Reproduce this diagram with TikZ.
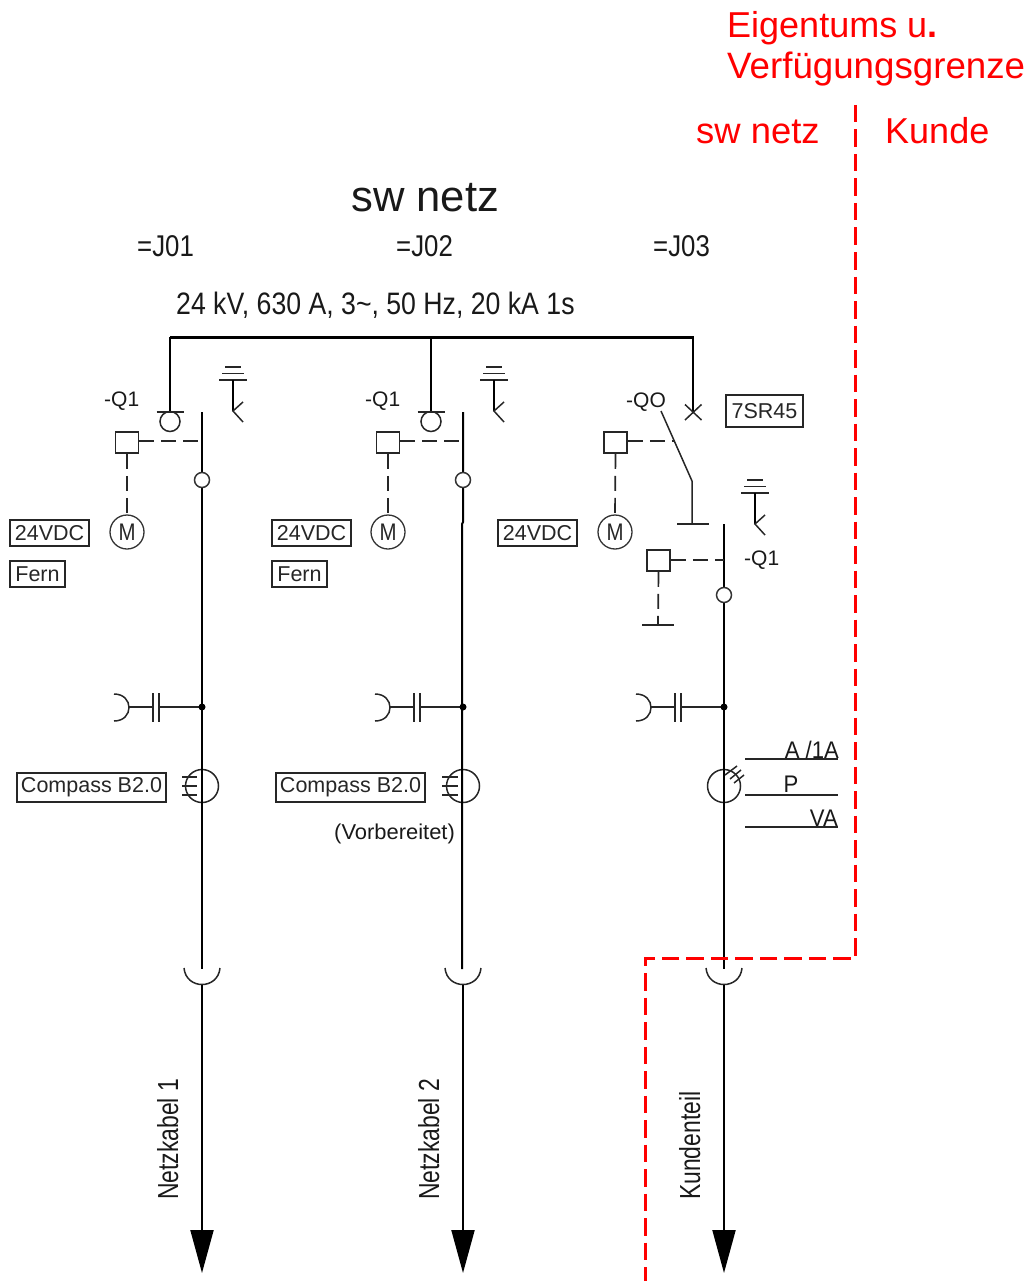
\documentclass[tikz,border=0pt]{standalone}
\usepackage{fontspec}
\usepackage{graphicx}
\setmainfont{Liberation Sans}
\usetikzlibrary{arrows.meta}
\definecolor{grenzrot}{RGB}{255,0,0}
\newcommand{\fsz}[1]{\fontsize{#1pt}{#1pt}\selectfont}
\tikzset{
  wire/.style={line width=2pt,draw=black},
  thin wire/.style={line width=1.5pt,draw=black!85},
  ctrl/.style={line width=1.7pt,draw=black!85,dash pattern=on 15pt off 7pt},
  tagbox/.style={draw=black!85,line width=1.5pt,inner sep=0pt,align=center,font=\fsz{21.5},text=black!85},
  drive/.style={draw=black!85,line width=1.6pt,minimum width=23pt,minimum height=21pt,inner sep=0pt,fill=white},
  motor/.style={circle,draw=black!80,line width=1.3pt,minimum size=34pt,inner sep=0pt,font=\fsz{24},text=black!85},
  joint/.style={circle,draw=black!80,line width=1.5pt,fill=white,minimum size=15pt,inner sep=0pt},
  lbl/.style={inner sep=0pt,anchor=base west,text=black!90},
  redlbl/.style={inner sep=0pt,anchor=base west,text=grenzrot,font=\fsz{36}},
  redline/.style={draw=grenzrot,line width=3pt,dash pattern=on 17.5pt off 7pt},
  outarrow/.style={wire,-{Triangle[length=43pt,width=23pt]}}
}
% earth switch symbol, #1 name, #2 x, #3 top y
\newcommand{\earthsym}[3]{%
  \coordinate (#1top) at (#2,#3+13);
  \coordinate (#1low) at (#2,#3+44);
  \draw[thin wire] (#2-8,#3) -- (#2+8,#3);
  \draw[thin wire] (#2-11,#3+6.5) -- (#2+11,#3+6.5);
  \draw[thin wire] (#2-14,#3+13) -- (#2+14,#3+13);
  \draw[wire] (#1top) -- (#1low);
  \draw[thin wire] (#2+10,#3+35) -- (#1low) -- (#2+10,#3+55);
}
% lower part of a feeder, #1 name, #2 x of the line
\newcommand{\lowerpart}[2]{%
  \coordinate (#1dot) at (#2,707);
  \coordinate (#1plateA) at (#2-43,707);
  \coordinate (#1plateB) at (#2-49,707);
  \coordinate (#1tip) at (#2-73,707);
  \coordinate (#1end) at (#2,969);
  \coordinate (#1cable) at (#2,985);
  \coordinate (#1out) at (#2,1273);
  \draw[thin wire] (#1dot) -- (#1plateA);
  \draw[thin wire] (#1plateB) -- (#1tip);
  \draw[thin wire] (#2-43,693) -- (#2-43,722);
  \draw[thin wire] (#2-49,693) -- (#2-49,722);
  \draw[thin wire] (#2-88,694) .. controls (#2-68,694) and (#2-68,721) .. (#2-88,721);
  \fill (#1dot) circle (3.5pt);
  \draw[thin wire] (#2,786) circle (16.5pt);
  \draw[thin wire] (#2-18,968) .. controls (#2-16,990) and (#2+16,990) .. (#2+18,968);
  \draw[outarrow] (#1cable) -- (#1out);
}
% upper part of feeders 1 and 2: #1 name, #2 x of the line
\newcommand{\upperpart}[2]{%
  \coordinate (#1busdrop) at (#2-32,337);
  \coordinate (#1contact) at (#2-32,412);
  \coordinate (#1blade) at (#2,412);
  \coordinate (#1link) at (#2,441);
  \draw[wire] (#1busdrop) -- (#1contact);
  \draw[thin wire] (#2-45.5,412) -- (#2-18.5,412);
  \draw[thin wire] (#2-32,421.5) circle (10pt);
  \node[drive] (#1box) at (#2-75,442.5) {};
  \node[motor] (#1motor) at (#2-75,532) {\scalebox{.85}[1]{M}};
  \draw[ctrl] (#1box.east |- #1link) -- (#1link);
  \draw[ctrl] (#1box.south) -- (#1motor.north);
  \earthsym{#1e}{#2+31}{367}
}
\begin{document}
\begin{tikzpicture}[x=1pt,y=-1pt]
\useasboundingbox (0,0) rectangle (1032,1281);

% titles
\node[lbl,font=\fsz{43.6}] (title) at (351,212) {sw netz};
\node[lbl,font=\fsz{30}] (jone) at (137,257) {\scalebox{.86}[1]{=J01}};
\node[lbl,font=\fsz{30}] (jtwo) at (396,257) {\scalebox{.86}[1]{=J02}};
\node[lbl,font=\fsz{30}] (jthree) at (653,257) {\scalebox{.86}[1]{=J03}};
\node[lbl,font=\fsz{31}] (rating) at (176,314) {\scalebox{.86}[1]{24 kV, 630 A, 3\char"7E, 50 Hz, 20 kA 1s}};

% bus bar
\coordinate (busL) at (170,337);
\coordinate (busR) at (694,337);
\draw[line width=3pt] (busL) -- (busR);

% feeder 1
\upperpart{a}{202}
\lowerpart{a}{202}
\draw[wire] (ablade) -- (aend);
\node[joint] (ajoint) at (202,480) {};
\node[lbl,font=\fsz{21}] (aq) at (104,406) {-Q1};
\node[tagbox,minimum width=79pt,minimum height=26pt] (adc) at (49.5,533) {24VDC};
\node[tagbox,minimum width=55pt,minimum height=26pt] (afern) at (37.5,574) {Fern};
\node[tagbox,minimum width=149pt,minimum height=29pt] (acomp) at (91.5,787.5) {Compass B2.0};
\foreach \yy in {777,786,795} \draw[thin wire] (182,\yy) -- (197,\yy);

% feeder 2
\upperpart{b}{463}
\lowerpart{b}{463}
\coordinate (bkink) at (463,522);
\coordinate (bkinkb) at (462,524);
\draw[wire] (bblade) -- (bkink) -- (bkinkb) -- (462,969);
\node[joint] (bjoint) at (463,480) {};
\node[lbl,font=\fsz{21}] (bq) at (365,406) {-Q1};
\node[tagbox,minimum width=79pt,minimum height=26pt] (bdc) at (311.5,533) {24VDC};
\node[tagbox,minimum width=55pt,minimum height=26pt] (bfern) at (299.5,574) {Fern};
\node[tagbox,minimum width=149pt,minimum height=29pt] (bcomp) at (350.5,787.5) {Compass B2.0};
\foreach \yy in {777,786,795} \draw[thin wire] (442,\yy) -- (458,\yy);
\node[lbl,font=\fsz{21.5}] (bnote) at (334,839) {\scalebox{1.02}[1]{(Vorbereitet)}};

% feeder 3: circuit breaker
\coordinate (cdrop) at (693,337);
\coordinate (cx) at (693,412);
\draw[wire] (cdrop) -- (cx);
\draw[thin wire] (685,404.5) -- (701.5,420);
\draw[thin wire] (701.5,404.5) -- (685,420);
\coordinate (cbladeA) at (661,411);
\coordinate (cbladeB) at (692,481);
\coordinate (cbladeC) at (692,524);
\coordinate (clinkA) at (674,441);
\draw[thin wire] (cbladeA) -- (cbladeB) -- (cbladeC);
\draw[thin wire] (677,524) -- (709,524);
\node[drive] (cbox) at (615.5,442.5) {};
\node[motor] (cmotor) at (615,532) {\scalebox{.85}[1]{M}};
\draw[ctrl] (cbox.east |- clinkA) -- (clinkA);
\draw[ctrl] (cbox.south) -- (cmotor.north);
\node[lbl,font=\fsz{21}] (cqo) at (626,407) {-QO};
\node[tagbox,minimum width=77pt,minimum height=32pt] (crelay) at (764.5,411) {7SR45};
\node[tagbox,minimum width=79pt,minimum height=26pt] (cdc) at (537.5,533) {24VDC};
% feeder 3: switch
\earthsym{ce}{755}{480}
\lowerpart{c}{724}
\coordinate (cmainTop) at (724,524);
\coordinate (clinkB) at (724,560);
\draw[wire] (cmainTop) -- (cend);
\node[joint] (cjoint) at (724,595) {};
\node[drive] (dbox) at (658.5,560.5) {};
\coordinate (dbar) at (658,625);
\draw[ctrl] (dbox.east |- clinkB) -- (clinkB);
\draw[ctrl] (dbox.south) -- (dbar);
\draw[thin wire] (642,625) -- (674,625);
\node[lbl,font=\fsz{21}] (dq) at (744,565) {-Q1};
% measuring transformer
\draw[thin wire] (725,775) -- (737,766);
\draw[thin wire] (730,779) -- (741,770);
\draw[thin wire] (734,783) -- (744,775);
\coordinate (mAl) at (745,759);\coordinate (mAr) at (838,759);
\coordinate (mPl) at (745,795);\coordinate (mPr) at (838,795);
\coordinate (mVl) at (745,827);\coordinate (mVr) at (838,827);
\draw[thin wire] (mAl) -- (mAr);
\draw[thin wire] (mPl) -- (mPr);
\draw[thin wire] (mVl) -- (mVr);
\node[lbl,anchor=base east,font=\fsz{24}] (mA) at (839,758) {\scalebox{.92}[1]{A /1A}};
\node[lbl,anchor=base,font=\fsz{24}] (mP) at (791,792) {\scalebox{.92}[1]{P}};
\node[lbl,anchor=base east,font=\fsz{24}] (mV) at (838,826) {\scalebox{.92}[1]{VA}};

% cable labels
\node[lbl,rotate=90,font=\fsz{29}] (ka) at (178,1200) {\scalebox{.79}[1]{Netzkabel 1}};
\node[lbl,rotate=90,font=\fsz{29}] (kb) at (439,1200) {\scalebox{.79}[1]{Netzkabel 2}};
\node[lbl,rotate=90,font=\fsz{29}] (kc) at (700,1200) {\scalebox{.79}[1]{Kundenteil}};

% ownership limit
\coordinate (rTop) at (855,105);
\coordinate (rA) at (855,958);
\coordinate (rB) at (645,958);
\coordinate (rEnd) at (645,1281);
\draw[redline] (rTop) -- (rA) -- (rB) -- (rEnd);
\node[redlbl] (rone) at (727,37.5) {Eigentums u\textbf{.}};
\node[redlbl,font=\fsz{36.7}] (rtwo) at (727,79) {Verfügungsgrenze};
\node[redlbl,font=\fsz{36.4}] (rsw) at (696,144) {sw netz};
\node[redlbl] (rku) at (885,144) {Kunde};
\end{tikzpicture}
\end{document}
